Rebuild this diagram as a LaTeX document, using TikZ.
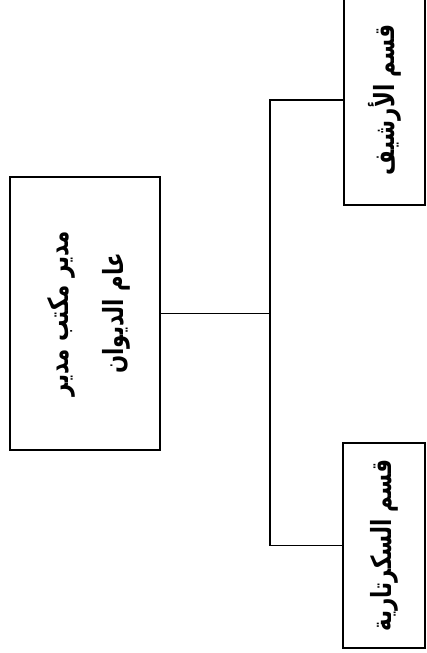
\documentclass[tikz,border=0pt]{standalone}
\usepackage{fontspec}
\usepackage{graphicx}
\newfontfamily\arabicfont[Script=Arabic]{DejaVu Sans}
\TeXXeTstate=1
\tikzset{
  orgbox/.style={draw, line width=1.1pt, inner sep=0pt, font=\arabicfont\bfseries\fontsize{16}{32}\selectfont},
  link/.style={line width=1.1pt}
}
\begin{document}
\begin{tikzpicture}[x=0.75pt,y=-0.75pt]
        \useasboundingbox (0,0) rectangle (427,653);
        \node[orgbox, minimum width=112.5pt, minimum height=204.75pt] (mudir) at (85,313.5)
            {\rotatebox{90}{\scalebox{1}[1.3]{\begin{tabular}{c}\beginR مدير مكتب مدير\endR\\ \beginR عام الديوان\endR\end{tabular}}}};
        \node[orgbox, minimum width=60.75pt, minimum height=157.5pt] (arshif) at (384.5,100)
            {\rotatebox{90}{\scalebox{1}[1.3]{\beginR قسم الأرشيف\endR}}};
        \node[orgbox, minimum width=61.5pt, minimum height=153.75pt] (sekr) at (384,545.5)
            {\rotatebox{90}{\scalebox{1}[1.3]{\beginR قسم السكرتارية\endR}}};

        \coordinate (mid) at (270,313.5);
        \draw[link] (mudir.east) -- (mid);
        \draw[link] (arshif.west) -| (mid) |- (sekr.west);
\end{tikzpicture}
\end{document}
